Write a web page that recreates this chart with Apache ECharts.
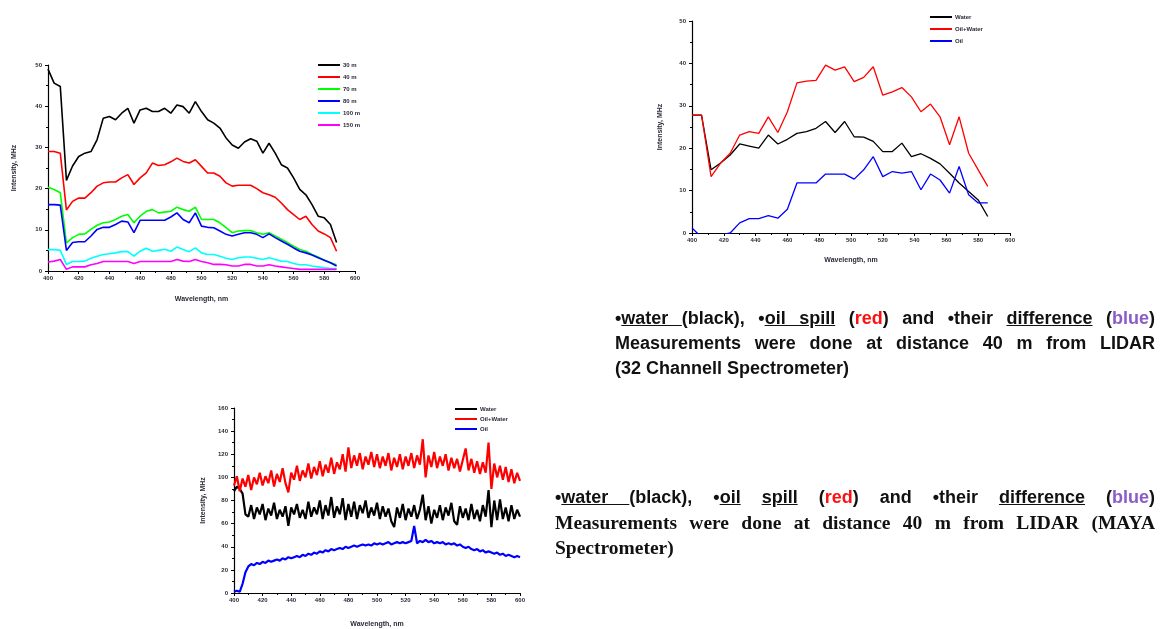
<!DOCTYPE html>
<html>
<head>
<meta charset="utf-8">
<script src="https://cdn.jsdelivr.net/npm/echarts@6/dist/echarts.min.js"></script>
<style>
  html, body { margin: 0; padding: 0; background: #fff; }
  #page { position: relative; width: 1160px; height: 629px; overflow: hidden; }
  #chart { position: absolute; left: 0; top: 0; width: 1160px; height: 629px; }
  .note { position: absolute; color: #111; font-weight: bold; }
  .note div { height: 25px; line-height: 25px; white-space: nowrap; }
  .sans { font-family: "Liberation Sans", Arial, sans-serif; font-size: 18px; }
  .serif { font-family: "Liberation Serif", "DejaVu Serif", serif; font-size: 19.5px; }
  .just { text-align: justify; text-align-last: justify; white-space: normal !important; }
  .red { color: #ff1010; }
  .violet { color: #8a5cc7; }
</style>
</head>
<body>
<div id="page">
  <div id="chart"></div>
  <div class="note" style="left:615px; top:306px; width:540px;">
    <div class="sans just">&#8226;<u>water </u>(black), &#8226;<u>oil spill</u> (<span class="red">red</span>) and &#8226;their <u>difference</u> (<span class="violet">blue</span>)</div>
    <div class="sans just">Measurements were done at distance 40 m from LIDAR</div>
    <div class="sans">(32 Channell Spectrometer)</div>
  </div>
  <div class="note" style="left:555px; top:485px; width:600px;">
    <div class="sans just">&#8226;<u>water </u>(black), &#8226;<u>oil</u> <u>spill</u> (<span class="red">red</span>) and &#8226;their <u>difference</u> (<span class="violet">blue</span>)</div>
    <div class="serif just">Measurements were done at distance 40 m from LIDAR (MAYA</div>
    <div class="serif">Spectrometer)</div>
  </div>
</div>
<script>
'use strict'

// tick labels
var xTicks = [400, 420, 440, 460, 480, 500, 520, 540, 560, 580, 600];
var yTicks1 = [0, 10, 20, 30, 40, 50];
var yTicks3 = [0, 20, 40, 60, 80, 100, 120, 140, 160];

// chart 1: intensity at different distances
var distNames = ['30 m', '40 m', '70 m', '80 m', '100 m', '150 m'];
var wavelength1 = [400, 404, 408, 412, 416, 420, 424, 428, 432, 436, 440, 444, 448, 452, 456, 460,
    464, 468, 472, 476, 480, 484, 488, 492, 496, 500, 504, 508, 512, 516, 520, 524,
    528, 532, 536, 540, 544, 548, 552, 556, 560, 564, 568, 572, 576, 580, 584, 588];
var dist30 = [49, 45.6, 44.8, 22, 25.5, 27.8, 28.6, 29.0, 31.9, 37.1, 37.5, 36.7, 38.3, 39.5, 35.9, 39.1,
    39.5, 38.7, 38.7, 39.5, 38.3, 40.3, 39.9, 38.3, 41.1, 38.7, 36.7, 35.9, 34.7, 32.3, 30.6, 29.8,
    31.3, 32.1, 31.5, 28.6, 31.0, 28.6, 25.8, 25.0, 22.6, 19.8, 18.5, 16.1, 13.3, 12.9, 11.3, 6.9];
var dist40 = [29.0, 29.0, 28.6, 14.8, 16.9, 17.7, 17.7, 19.0, 20.6, 21.4, 21.6, 21.6, 22.6, 23.4, 21.0, 22.6,
    23.8, 26.2, 25.6, 25.8, 26.5, 27.4, 26.6, 26.2, 27.0, 25.4, 23.8, 23.8, 23.0, 21.4, 20.6, 20.8,
    20.8, 20.8, 20.0, 19.0, 18.5, 17.9, 16.5, 14.9, 13.7, 12.5, 13.3, 11.3, 9.7, 9.0, 8.1, 4.8];
var dist70 = [20.3, 19.8, 19.0, 6.8, 8.1, 8.9, 9.0, 10.1, 11.1, 11.7, 11.9, 12.5, 13.3, 13.7, 11.7, 13.3,
    14.5, 14.9, 14.1, 14.3, 14.5, 15.5, 14.9, 14.5, 15.5, 12.5, 12.5, 12.5, 11.7, 10.5, 9.3, 9.7,
    9.8, 9.8, 9.3, 8.9, 9.3, 8.5, 7.7, 6.9, 6.0, 5.2, 4.8, 4.0, 3.4, 2.6, 2.0, 1.5];
var dist80 = [16.1, 16.1, 16.0, 5.0, 6.9, 7.1, 7.1, 8.5, 10.1, 10.6, 10.6, 11.3, 12.1, 11.9, 9.3, 12.3,
    12.3, 12.3, 12.3, 12.3, 13.1, 14.1, 12.5, 11.7, 14.1, 10.9, 10.6, 10.5, 9.7, 8.9, 8.5, 8.9,
    9.3, 9.3, 8.9, 8.1, 9.0, 8.1, 7.3, 6.5, 5.6, 4.8, 4.4, 3.9, 3.2, 2.6, 2.0, 1.2];
var dist100 = [5.2, 5.2, 5.0, 1.6, 2.3, 2.3, 2.4, 3.1, 3.6, 4.0, 4.2, 4.4, 4.7, 4.7, 3.6, 4.8,
    5.5, 4.8, 5.0, 5.3, 4.8, 5.8, 5.2, 4.7, 5.6, 4.4, 4.0, 4.0, 3.6, 3.1, 2.8, 3.2,
    3.4, 3.4, 3.1, 2.8, 3.2, 2.8, 2.4, 2.3, 1.8, 1.5, 1.5, 1.2, 1.0, 0.8, 0.6, 0.6];
var dist150 = [2.2, 2.4, 2.8, 0.4, 1.0, 1.0, 1.0, 1.5, 1.8, 2.3, 2.3, 2.3, 2.3, 2.3, 1.8, 2.3,
    2.3, 2.3, 2.3, 2.3, 2.3, 2.8, 2.4, 2.3, 2.8, 2.3, 2.0, 1.6, 1.6, 1.5, 1.2, 1.2,
    1.6, 1.6, 1.2, 1.2, 1.5, 1.2, 1.0, 0.8, 0.6, 0.4, 0.4, 0.4, 0.4, 0.4, 0.4, 0.4];

// chart 2: 32 channel spectrometer
var mixNames = ['Water', 'Oil+Water', 'Oil'];
var wavelength2 = [400, 406, 412, 418, 424, 430, 436, 442, 448, 454, 460, 466, 472, 478, 484, 490,
    496, 502, 508, 514, 520, 526, 532, 538, 544, 550, 556, 562, 568, 574, 580, 586];
var water32 = [27.8, 27.8, 14.9, 16.5, 18.4, 21.0, 20.5, 20.0, 23.1, 21.0, 22.1, 23.5, 23.9, 24.7, 26.3, 23.7,
    26.3, 22.7, 22.6, 21.6, 19.2, 19.2, 21.2, 18.0, 18.7, 17.6, 16.3, 14.1, 11.8, 9.8, 7.8, 3.9];
var oilWater32 = [27.8, 27.8, 13.3, 16.5, 18.8, 23.1, 23.9, 23.5, 27.4, 23.7, 28.6, 35.4, 35.8, 36.0, 39.6, 38.4,
    39.2, 35.7, 36.7, 39.2, 32.5, 33.3, 34.3, 32.1, 28.6, 30.4, 27.4, 20.8, 27.4, 18.8, 14.9, 11.0];
var oil32 = [1.2, -1.0, -1.6, -0.5, 0.0, 2.4, 3.4, 3.4, 4.1, 3.5, 5.6, 11.8, 11.8, 11.8, 13.9, 13.9,
    13.9, 12.7, 14.9, 18.0, 13.3, 14.5, 14.1, 14.5, 10.2, 13.9, 12.5, 9.4, 15.7, 9.0, 7.1, 7.1];

// chart 3: MAYA spectrometer
var wavelength3 = [400, 402, 404, 406, 408, 410, 412, 414, 416, 418, 420, 422, 424, 426, 428, 430,
    432, 434, 436, 438, 440, 442, 444, 446, 448, 450, 452, 454, 456, 458, 460, 462,
    464, 466, 468, 470, 472, 474, 476, 478, 480, 482, 484, 486, 488, 490, 492, 494,
    496, 498, 500, 502, 504, 506, 508, 510, 512, 514, 516, 518, 520, 522, 524, 526,
    528, 530, 532, 534, 536, 538, 540, 542, 544, 546, 548, 550, 552, 554, 556, 558,
    560, 562, 564, 566, 568, 570, 572, 574, 576, 578, 580, 582, 584, 586, 588, 590,
    592, 594, 596, 598, 600];
var waterMaya = [88, 92, 90, 86, 68, 66, 76, 64, 74, 68, 77, 63, 73, 67, 78, 64,
    72, 66, 75, 58, 74, 68, 77, 65, 72, 64, 79, 66, 74, 68, 80, 64,
    76, 67, 83, 65, 75, 68, 82, 63, 77, 66, 79, 64, 76, 69, 80, 65,
    74, 67, 78, 64, 75, 66, 73, 62, 57, 74, 65, 77, 63, 73, 66, 76,
    64, 72, 85, 63, 75, 60, 72, 65, 76, 63, 74, 67, 78, 62, 59, 75,
    65, 73, 63, 77, 64, 72, 62, 76, 66, 89, 57, 80, 63, 81, 64, 74,
    62, 76, 64, 72, 66];
var oilWaterMaya = [93, 101, 88, 99, 92, 102, 89, 100, 94, 104, 93, 101, 95, 106, 92, 103,
    96, 108, 95, 87, 104, 98, 110, 97, 106, 100, 112, 99, 109, 102, 114, 101,
    111, 104, 117, 103, 113, 107, 120, 105, 126, 108, 119, 110, 121, 107, 118, 111,
    122, 109, 120, 108, 118, 110, 121, 106, 117, 109, 120, 107, 118, 110, 121, 108,
    119, 111, 133, 100, 119, 109, 122, 108, 118, 110, 120, 106, 117, 108, 116, 105,
    115, 125, 106, 116, 104, 114, 103, 113, 104, 130, 90, 112, 100, 110, 98, 109,
    96, 107, 95, 104, 97];
var oilMaya = [1, 2, 1, 8, 18, 23, 25, 24, 26, 25, 27, 26, 28, 27, 28, 29,
    28, 30, 29, 31, 30, 31, 32, 31, 33, 32, 34, 33, 35, 34, 36, 35,
    37, 36, 38, 37, 38, 39, 38, 40, 39, 40, 41, 40, 41, 42, 41, 42,
    41, 43, 42, 43, 42, 43, 44, 42, 43, 44, 43, 44, 43, 44, 45, 58,
    43, 45, 44, 46, 44, 45, 43, 44, 43, 44, 42, 43, 42, 43, 41, 42,
    40, 39, 40, 38, 37, 38, 36, 37, 35, 36, 35, 34, 35, 33, 34, 32,
    33, 32, 31, 32, 31];

function pairs(xs, ys) {
    var out = [];
    for (var i = 0; i < xs.length; i++) {
        out.push([xs[i], ys[i]]);
    }
    return out;
}

var tinyFont = { fontFamily: 'Liberation Sans', fontSize: 6, fontWeight: 'bold', color: '#2a2a3a' };
var nameFont = { fontFamily: 'Liberation Sans', fontSize: 7, fontWeight: 'bold', color: '#2a2a3a' };

function xAxisFor(grid, gap) {
    return {
        type: 'value', gridIndex: grid, min: xTicks[0], max: xTicks[xTicks.length - 1], interval: 20,
        name: 'Wavelength, nm', nameLocation: 'middle', nameGap: gap, nameTextStyle: nameFont,
        axisLine: { onZero: false, lineStyle: { color: '#000', width: 1.2 } },
        axisTick: { length: 3, lineStyle: { color: '#000' } },
        minorTick: { show: true, splitNumber: 2, length: 2, lineStyle: { color: '#000' } },
        axisLabel: Object.assign({ margin: 4 }, tinyFont),
        splitLine: { show: false }
    };
}

function yAxisFor(grid, ticks, gap) {
    return {
        type: 'value', gridIndex: grid, min: ticks[0], max: ticks[ticks.length - 1], interval: ticks[1] - ticks[0],
        name: 'Intensity, MHz', nameLocation: 'middle', nameGap: gap, nameTextStyle: nameFont,
        axisLine: { show: true, onZero: false, lineStyle: { color: '#000', width: 1.2 } },
        axisTick: { show: true, length: 3, lineStyle: { color: '#000' } },
        minorTick: { show: true, splitNumber: 2, length: 2, lineStyle: { color: '#000' } },
        axisLabel: Object.assign({ margin: 6 }, tinyFont),
        splitLine: { show: false }
    };
}

function lineSeries(name, data, color, xi, width) {
    return {
        name: name, type: 'line', data: data, xAxisIndex: xi, yAxisIndex: xi,
        symbol: 'none', lineStyle: { color: color, width: width }, itemStyle: { color: color },
        clip: true, z: 3
    };
}

function legendFor(names, left, top, gap) {
    return {
        data: names, orient: 'vertical', left: left, top: top, padding: 0,
        icon: 'rect', itemWidth: 22, itemHeight: 2, itemGap: gap,
        textStyle: { fontFamily: 'Liberation Sans', fontSize: 6, fontWeight: 'bold', color: '#2a2a3a', lineHeight: 8, padding: [0, 0, 0, -2] }
    };
}

var distColors = ['#000000', '#ff0000', '#00ff00', '#0000ff', '#00ffff', '#ff00ff'];
var mixColors = ['#000000', '#ff0000', '#0000ff'];

var myChart = echarts.init(document.getElementById('chart'));
var option = {
    animation: false,
    backgroundColor: '#fff',
    grid: [
        { left: 48, top: 65, width: 307, height: 206 },
        { left: 692, top: 21, width: 318, height: 212 },
        { left: 234, top: 408, width: 286, height: 191 }
    ],
    legend: [
        legendFor(distNames, 318, 61, 4),
        legendFor(mixNames, 930, 13, 4),
        legendFor(mixNames, 455, 405, 2)
    ],
    xAxis: [xAxisFor(0, 25), xAxisFor(1, 24), xAxisFor(2, 28)],
    yAxis: [yAxisFor(0, yTicks1, 30), yAxisFor(1, yTicks1, 28), yAxisFor(2, yTicks3, 27)],
    series: [
        lineSeries(distNames[0], pairs(wavelength1, dist30), distColors[0], 0, 1.6),
        lineSeries(distNames[1], pairs(wavelength1, dist40), distColors[1], 0, 1.6),
        lineSeries(distNames[2], pairs(wavelength1, dist70), distColors[2], 0, 1.6),
        lineSeries(distNames[3], pairs(wavelength1, dist80), distColors[3], 0, 1.6),
        lineSeries(distNames[4], pairs(wavelength1, dist100), distColors[4], 0, 1.6),
        lineSeries(distNames[5], pairs(wavelength1, dist150), distColors[5], 0, 1.6),
        lineSeries(mixNames[0], pairs(wavelength2, water32), mixColors[0], 1, 1.3),
        lineSeries(mixNames[1], pairs(wavelength2, oilWater32), mixColors[1], 1, 1.3),
        lineSeries(mixNames[2], pairs(wavelength2, oil32), mixColors[2], 1, 1.3),
        lineSeries(mixNames[0], pairs(wavelength3, waterMaya), mixColors[0], 2, 2.2),
        lineSeries(mixNames[1], pairs(wavelength3, oilWaterMaya), mixColors[1], 2, 2.2),
        lineSeries(mixNames[2], pairs(wavelength3, oilMaya), mixColors[2], 2, 2.2)
    ]
};
myChart.setOption(option);
</script>
</body>
</html>
